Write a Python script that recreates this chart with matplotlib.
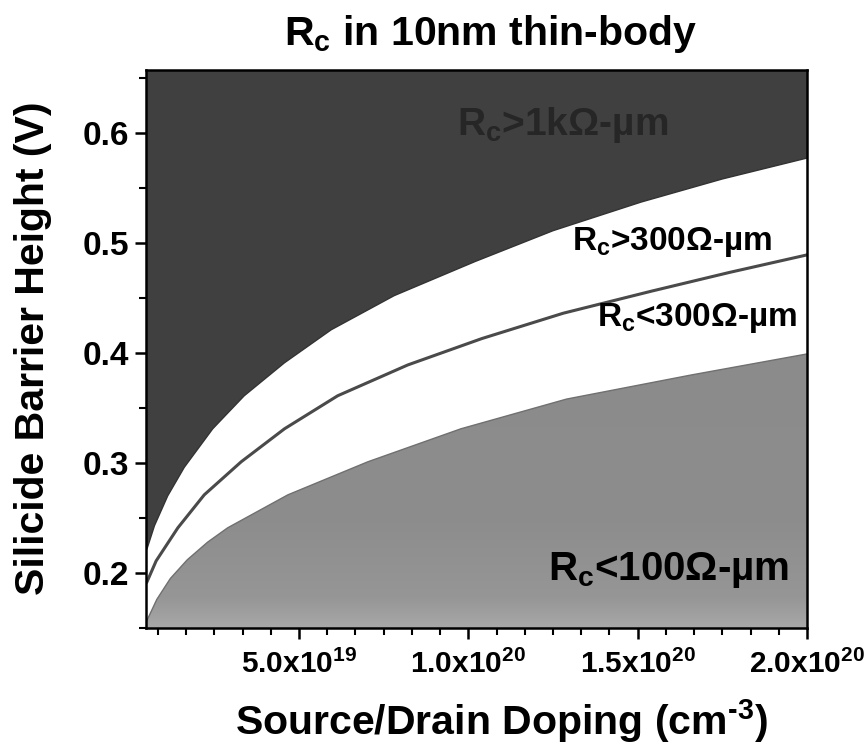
import matplotlib
matplotlib.use("Agg")
import numpy as np
import matplotlib.pyplot as plt
from matplotlib.ticker import MultipleLocator, FixedLocator, FixedFormatter

FONT = "Liberation Sans"
plt.rcParams['font.family'] = [FONT, 'DejaVu Sans']
plt.rcParams['font.weight'] = 'bold'
plt.rcParams['mathtext.fontset'] = 'custom'
plt.rcParams['mathtext.rm'] = FONT + ':bold'
plt.rcParams['mathtext.it'] = FONT + ':bold'
plt.rcParams['mathtext.bf'] = FONT + ':bold'

# ---- data (doping in cm^-3, barrier height in V) ----
doping_1k = [0.51e19, 0.73e19, 1.12e19, 1.61e19, 2.45e19, 3.38e19, 4.57e19, 5.95e19,
             7.81e19, 10.2e19, 12.5e19, 15.1e19, 17.5e19, 20.0e19]
barrier_1k = [0.222, 0.243, 0.270, 0.296, 0.331, 0.361, 0.391, 0.421,
              0.452, 0.483, 0.511, 0.537, 0.558, 0.577]

doping_300 = [0.51e19, 0.78e19, 1.42e19, 2.2e19, 3.29e19, 4.57e19, 6.14e19,
              8.21e19, 10.4e19, 12.8e19, 15.4e19, 17.7e19, 20.0e19]
barrier_300 = [0.192, 0.211, 0.241, 0.271, 0.301, 0.331, 0.361,
               0.389, 0.413, 0.436, 0.456, 0.473, 0.489]

doping_100 = [0.51e19, 0.8e19, 1.2e19, 1.7e19, 2.3e19, 2.89e19, 4.67e19, 7.03e19,
              9.78e19, 12.9e19, 16.6e19, 20.0e19]
barrier_100 = [0.157, 0.176, 0.195, 0.212, 0.228, 0.241, 0.271, 0.301,
               0.331, 0.358, 0.380, 0.399]

x_major = [5e19, 1e20, 1.5e20, 2e20]
x_major_labels = ["5.0x10$^{19}$", "1.0x10$^{20}$", "1.5x10$^{20}$", "2.0x10$^{20}$"]
y_major = [0.2, 0.3, 0.4, 0.5, 0.6]
y_major_labels = ["0.2", "0.3", "0.4", "0.5", "0.6"]

region_labels = ["R$_{\\mathrm{c}}$>1k\u03a9-\u00b5m", "R$_{\\mathrm{c}}$>300\u03a9-\u00b5m",
                 "R$_{\\mathrm{c}}$<300\u03a9-\u00b5m", "R$_{\\mathrm{c}}$<100\u03a9-\u00b5m"]

# ---- figure ----
fig = plt.figure(figsize=(8.68, 7.48), dpi=100)
ax = fig.add_axes([146/868, 1-628/748, (807-146)/868, (628-70)/748])

XMIN, XMAX, YMIN, YMAX = 0.48e19, 2.0e20, 0.15, 0.657
ax.set_facecolor('white')
ax.fill_between(doping_1k, barrier_1k, 1.0, color='#404040', lw=0, zorder=1)
gray = ax.fill_between(doping_100, barrier_100, 0.0, color='#8e8e8e', lw=0, zorder=1)

# subtle lightening of the grey region towards the x axis
grad = np.linspace(0, 1, 256).reshape(-1, 1)
cmap = matplotlib.colors.LinearSegmentedColormap.from_list(
    'g', [(0.0, '#a8a8a8'), (0.1, '#969696'), (0.35, '#8d8d8d'), (1.0, '#8b8b8b')])
im = ax.imshow(grad, cmap=cmap, aspect='auto', origin='lower',
               extent=[XMIN, XMAX, YMIN, 0.42], zorder=1.5, interpolation='bicubic')
im.set_clip_path(gray.get_paths()[0], transform=ax.transData)

ax.plot(doping_1k, barrier_1k, color='#333333', lw=1.0, zorder=2)
ax.plot(doping_100, barrier_100, color='#707070', lw=1.0, zorder=2)
ax.plot(doping_300, barrier_300, color='#4a4a4a', lw=2.2, zorder=3)

ax.set_xlim(XMIN, XMAX)
ax.set_ylim(YMIN, YMAX)

ax.xaxis.set_major_locator(FixedLocator(x_major))
ax.xaxis.set_major_formatter(FixedFormatter(x_major_labels))
ax.xaxis.set_minor_locator(MultipleLocator(5e19/6))
ax.yaxis.set_major_locator(FixedLocator(y_major))
ax.yaxis.set_major_formatter(FixedFormatter(y_major_labels))
ax.yaxis.set_minor_locator(MultipleLocator(0.05))

ax.tick_params(axis='both', which='major', direction='out', length=8, width=1.8,
               labelsize=24, pad=4)
ax.tick_params(axis='both', which='minor', direction='out', length=5, width=1.5)
ax.tick_params(axis='x', which='major', pad=8, labelsize=21.5)
for lbl in ax.get_xticklabels() + ax.get_yticklabels():
    lbl.set_fontweight('bold')
for sp in ax.spines.values():
    sp.set_linewidth(1.8)
    sp.set_zorder(5)

ax.text(0.63, 0.902, region_labels[0], transform=ax.transAxes, fontsize=28,
        fontweight='bold', color='#262626', ha='center', va='center', zorder=6)
ax.text(0.644, 0.692, region_labels[1], transform=ax.transAxes, fontsize=24,
        fontweight='bold', color='black', ha='left', va='center', zorder=6)
ax.text(0.682, 0.556, region_labels[2], transform=ax.transAxes, fontsize=24,
        fontweight='bold', color='black', ha='left', va='center', zorder=6)
ax.text(0.608, 0.104, region_labels[3], transform=ax.transAxes, fontsize=29,
        fontweight='bold', color='black', ha='left', va='center', zorder=6)

fig.text(0.565, 0.955, "R$_{\\mathrm{c}}$ in 10nm thin-body", fontsize=29.5,
         fontweight='bold', ha='center', va='center')
fig.text(0.578, 0.036, "Source/Drain Doping (cm$^{\\text{-3}}$)", fontsize=29.5,
         fontweight='bold', ha='center', va='center')
fig.text(0.038, 0.535, "Silicide Barrier Height (V)", fontsize=29.5,
         fontweight='bold', ha='center', va='center', rotation=90)

fig.savefig("out.png", dpi=100, facecolor='white')
